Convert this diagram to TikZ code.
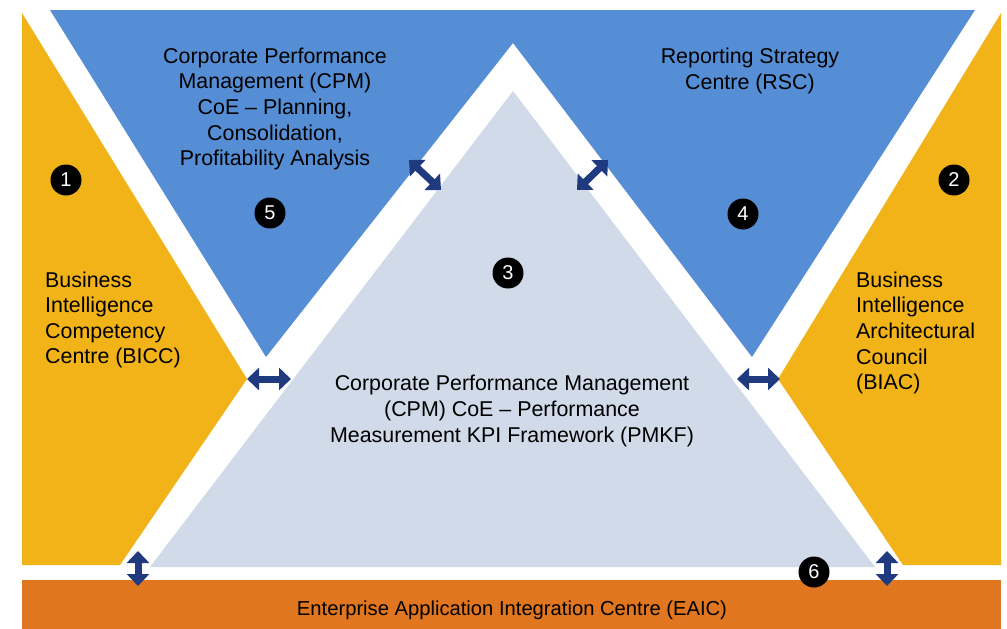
\documentclass[tikz,border=0pt]{standalone}
\usepackage{fontspec}
\setmainfont{Liberation Sans}
\usetikzlibrary{arrows.meta}
\definecolor{bicyellow}{HTML}{F2B318}
\definecolor{cpmblue}{HTML}{558ED5}
\definecolor{pmkfgrey}{HTML}{D0DAE8}
\definecolor{eaicorange}{HTML}{E0761F}
\definecolor{linkblue}{HTML}{1F3A7F}
\begin{document}
\begin{tikzpicture}[x=1pt,y=-1pt,
        area text/.style={font=\fontsize{21.4}{25.6}\selectfont,inner sep=0pt},
        badge/.style={circle,fill=black,text=white,minimum size=31pt,inner sep=0pt,font=\fontsize{20}{20}\selectfont},
        link/.style={draw=linkblue,line width=7pt,{Triangle[width=22pt,length=12pt]}-{Triangle[width=22pt,length=12pt]}}]
    \useasboundingbox[fill=white] (0,0) rectangle (1007,629);
    % areas
    \fill[bicyellow] (22,13) -- (247,379) -- (120,565) -- (22,565) -- cycle;
    \fill[bicyellow] (1001,13) -- (778,379) -- (903,565) -- (1001,565) -- cycle;
    \fill[cpmblue] (50,10) -- (975,10) -- (752,357) -- (513,43) -- (266,357) -- cycle;
    \fill[pmkfgrey] (513,91) -- (875,567) -- (150,567) -- cycle;
    \fill[eaicorange] (22,580) rectangle (1001,629);
    % texts
    \node[area text,align=center] (cpm) at (275,109) {Corporate Performance\\Management (CPM)\\CoE -- Planning,\\Consolidation,\\Profitability Analysis};
    \node[area text,align=center] (rsc) at (750,71) {Reporting Strategy\\Centre (RSC)};
    \node[area text,align=left,anchor=west] (bicc) at (45,320) {Business\\Intelligence\\Competency\\Centre (BICC)};
    \node[area text,align=left,anchor=west] (biac) at (856,333) {Business\\Intelligence\\Architectural\\Council\\(BIAC)};
    \node[area text,align=center] (pmkf) at (512,411) {Corporate Performance Management\\(CPM) CoE -- Performance\\Measurement KPI Framework (PMKF)};
    \node[area text,font=\fontsize{20.2}{24}\selectfont] (eaic) at (512,610) {Enterprise Application Integration Centre (EAIC)};
    % numbers
    \foreach \n/\x/\y in {1/66/180,2/954/180,3/508/273,4/743/214,5/270/213,6/814/572}{
        \node[badge] (num\n) at (\x,\y) {\n};
    }
    % links
    \coordinate (bicc r) at (247,379);  \coordinate (pmkf l) at (291,379);
    \coordinate (pmkf r) at (737,379);  \coordinate (biac l) at (780,379);
    \coordinate (cpm d) at (409,160);   \coordinate (pmkf ul) at (441,190);
    \coordinate (pmkf ur) at (577,190); \coordinate (rsc d) at (608,160);
    \coordinate (bicc b) at (138,551);  \coordinate (eaic l) at (138,586);
    \coordinate (biac b) at (887,551);  \coordinate (eaic r) at (887,586);
    \draw[link] (bicc r) -- (pmkf l);
    \draw[link] (pmkf r) -- (biac l);
    \draw[link] (cpm d) -- (pmkf ul);
    \draw[link] (pmkf ur) -- (rsc d);
    \draw[link] (bicc b) -- (eaic l);
    \draw[link] (biac b) -- (eaic r);
\end{tikzpicture}
\end{document}
